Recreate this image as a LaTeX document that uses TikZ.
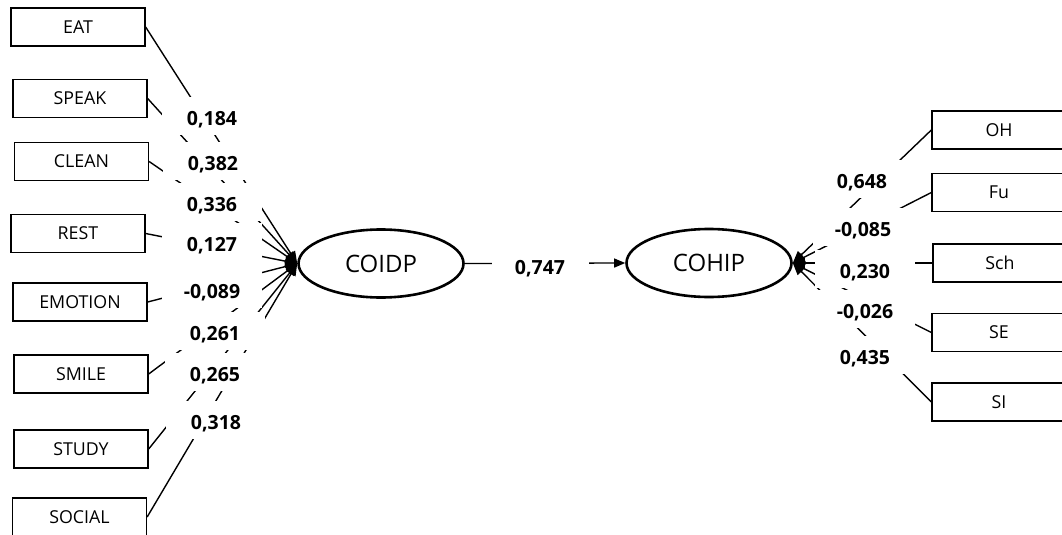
\documentclass[tikz,border=0pt]{standalone}
\usepackage{fontspec}
\setmainfont{Open Sans}
\usetikzlibrary{arrows.meta,shapes.geometric}
\begin{document}
\begin{tikzpicture}[x=1pt,y=-1pt,
  indicator/.style={draw, line width=1.3pt, minimum width=134pt, minimum height=38pt,
    inner sep=0pt, font=\fontsize{17.8}{18}\selectfont},
  latent/.style={draw, ellipse, line width=2.6pt, minimum width=165pt, minimum height=68pt,
    inner sep=0pt, font=\fontsize{24}{24}\selectfont},
  loading/.style={line width=1.4pt, -{Triangle[length=12pt,width=10pt]}},
  path/.style={line width=1.3pt, -{Triangle[length=11pt,width=9pt]}},
  coef/.style={fill=white, inner sep=0pt, minimum width=100pt, text height=28pt,
    text depth=10pt, font=\bfseries\fontsize{19.5}{20}\selectfont},
]
% canvas
\fill[white] (0,0) rectangle (1062,535);
\useasboundingbox (0,0) rectangle (1062,535);

% latent variables
\node[latent] (coidp) at (381,263.5) {COIDP};
\node[latent] (cohip) at (709,263) {COHIP};

% indicators of COIDP
\node[indicator] (eat)     at (78,27)     {EAT};
\node[indicator] (speak)   at (80,98.5)   {SPEAK};
\node[indicator] (clean)   at (81.5,161.5){CLEAN};
\node[indicator] (rest)    at (78,233.5)  {REST};
\node[indicator] (emotion) at (80,302)    {EMOTION};
\node[indicator] (smile)   at (81,374)    {SMILE};
\node[indicator] (study)   at (81,449)    {STUDY};
\node[indicator] (social)  at (79.5,517)  {SOCIAL};

% indicators of COHIP
\node[indicator] (oh)  at (999,130)   {OH};
\node[indicator] (fu)  at (999,192.5) {Fu};
\node[indicator] (sch) at (1000,263)  {Sch};
\node[indicator] (se)  at (999,332.5) {SE};
\node[indicator] (si)  at (999,402)   {SI};

% loadings
\foreach \b in {eat,speak,clean,rest,emotion,smile,study,social}
  \draw[loading] (\b.east) -- (coidp.west);
\foreach \b in {oh,fu,sch,se,si}
  \draw[loading] (\b.west) -- (cohip.east);

% structural path
\draw[path] (coidp.east) -- (cohip.west);

% coefficients
\node[coef] (k1) at (212,116) {0,184};
\node[coef] (k2) at (213,161) {0,382};
\node[coef] (k3) at (212,202) {0,336};
\node[coef] (k4) at (212,242) {0,127};
\node[coef] (k5) at (212,289) {-0,089};
\node[coef] (k6) at (215,331) {0,261};
\node[coef] (k7) at (215,372) {0,265};
\node[coef] (k8) at (216,420) {0,318};

\node[coef, minimum width=97pt] (kp) at (540,265) {0,747};

\node[coef] (r1) at (862,179) {0,648};
\node[coef] (r2) at (863,227) {-0,085};
\node[coef] (r3) at (865,269) {0,230};
\node[coef] (r4) at (865,309) {-0,026};
\node[coef] (r5) at (865,355) {0,435};
\end{tikzpicture}
\end{document}
